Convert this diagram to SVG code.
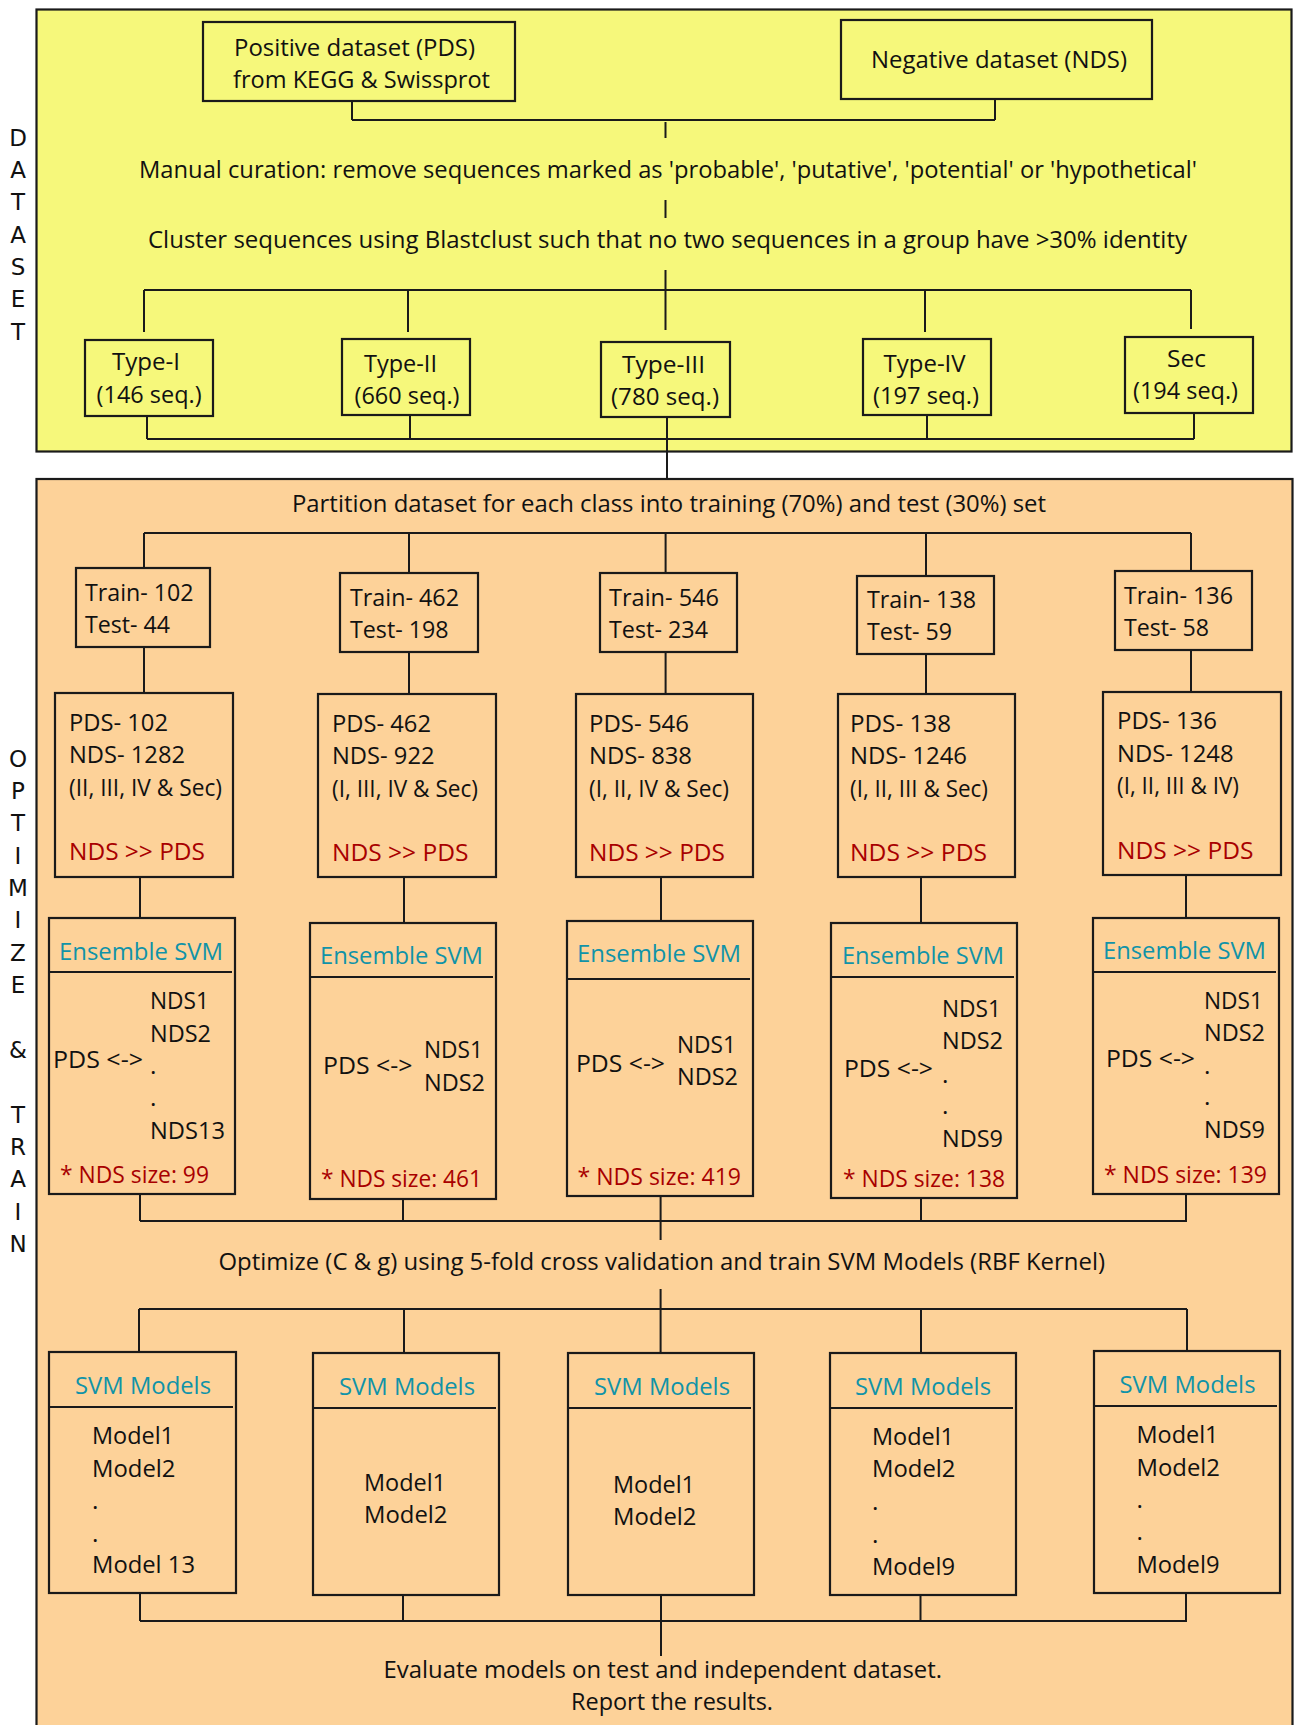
<svg xmlns="http://www.w3.org/2000/svg" width="1294" height="1725" viewBox="0 0 1294 1725">
<style>
.bg{stroke:#1a1a1a;stroke-width:2.2}
.b{fill:none;stroke:#1a1a1a;stroke-width:2.2}
.c{fill:none;stroke:#1a1a1a;stroke-width:2}
text{font-family:'Open Sans','Noto Sans',Lato,sans-serif;font-size:24.5px;fill:#111;font-variant-ligatures:none}
.r{fill:#a80000}
.tl{fill:#1093a8}
.s{font-family:'DejaVu Sans','Liberation Sans',sans-serif;font-size:23px;text-anchor:middle;fill:#111}
</style>
<rect x="0" y="0" width="1294" height="1725" fill="#ffffff"/>
<rect class="bg" x="36.5" y="9.5" width="1255" height="442" fill="#f6f87b"/>
<rect class="bg" x="36.5" y="479" width="1256" height="1260" fill="#fdd299"/>

<g id="side-labels">
<text class="s" x="18" y="146">D</text><text class="s" x="18" y="178">A</text><text class="s" x="18" y="210">T</text><text class="s" x="18" y="243">A</text><text class="s" x="18" y="275">S</text><text class="s" x="18" y="307">E</text><text class="s" x="18" y="340">T</text>
<text class="s" x="18" y="767">O</text><text class="s" x="18" y="799">P</text><text class="s" x="18" y="831">T</text><text class="s" x="18" y="864">I</text><text class="s" x="18" y="896">M</text><text class="s" x="18" y="928">I</text><text class="s" x="18" y="961">Z</text><text class="s" x="18" y="993">E</text><text class="s" x="18" y="1058">&amp;</text><text class="s" x="18" y="1123">T</text><text class="s" x="18" y="1155">R</text><text class="s" x="18" y="1187">A</text><text class="s" x="18" y="1220">I</text><text class="s" x="18" y="1252">N</text>
</g>

<g id="connectors" class="c">
<path d="M352 101V120M995 99V120M352 120H995M665.5 122V138M665.5 200V218M665.5 270V330"/>
<path d="M144 290H1191M144 290V332M408 290V332M925 290V332M1191 290V329"/>
<path d="M147 416V439M410 415V439M667 417V479M927 415V439M1194 413V439M147 439H1194"/>
<path d="M144 533H1191M144 533V568M409 533V573M665.6 533V573M926 533V576M1191 533V571"/>
<path d="M144 647V693M409 652V694M665.6 652V694M926 654V694M1191 650V692"/>
<path d="M140 877V918M404 877V923M661 877V921M921 877V923M1186 875V918"/>
<path d="M140 1194V1221M403 1199V1221M660.6 1196V1240M921 1198V1221M1186 1194V1221M140 1221H1187"/>
<path d="M660.6 1289V1353M139 1309H1187M139 1309V1352M404 1309V1353M921 1309V1353M1187 1309V1351"/>
<path d="M140 1593V1621M403 1595V1621M661 1595V1656M920.5 1595V1621M1186 1593V1621M140 1621H1187"/>
</g>

<g id="pds-source"><rect class="b" x="203" y="22" width="312" height="79"/>
<text x="234" y="56" textLength="241" lengthAdjust="spacingAndGlyphs">Positive dataset (PDS)</text>
<text x="233" y="88" textLength="257" lengthAdjust="spacingAndGlyphs">from KEGG &amp; Swissprot</text></g>
<g id="nds-source"><rect class="b" x="841" y="20" width="311" height="79"/>
<text x="871" y="68" textLength="256" lengthAdjust="spacingAndGlyphs">Negative dataset (NDS)</text></g>
<g id="curation"><text x="139" y="178" textLength="1058" lengthAdjust="spacingAndGlyphs">Manual curation: remove sequences marked as 'probable', 'putative', 'potential' or 'hypothetical'</text></g>
<g id="cluster"><text x="148" y="248" textLength="1039" lengthAdjust="spacingAndGlyphs">Cluster sequences using Blastclust such that no two sequences in a group have &gt;30% identity</text></g>

<g id="type1"><rect class="b" x="85" y="340" width="128" height="76"/>
<text x="112" y="370" textLength="68" lengthAdjust="spacingAndGlyphs">Type-I</text>
<text x="96.6" y="403" textLength="105" lengthAdjust="spacingAndGlyphs">(146 seq.)</text></g>
<g id="type2"><rect class="b" x="342" y="339" width="128" height="76"/>
<text x="364" y="372" textLength="73" lengthAdjust="spacingAndGlyphs">Type-II</text>
<text x="354.5" y="404" textLength="105" lengthAdjust="spacingAndGlyphs">(660 seq.)</text></g>
<g id="type3"><rect class="b" x="601" y="342" width="129" height="75"/>
<text x="622" y="373" textLength="83" lengthAdjust="spacingAndGlyphs">Type-III</text>
<text x="611" y="405" textLength="108" lengthAdjust="spacingAndGlyphs">(780 seq.)</text></g>
<g id="type4"><rect class="b" x="863" y="339" width="128" height="76"/>
<text x="883.6" y="372" textLength="82" lengthAdjust="spacingAndGlyphs">Type-IV</text>
<text x="873" y="404" textLength="106" lengthAdjust="spacingAndGlyphs">(197 seq.)</text></g>
<g id="sec"><rect class="b" x="1125" y="337" width="128" height="76"/>
<text x="1167" y="367" textLength="39" lengthAdjust="spacingAndGlyphs">Sec</text>
<text x="1133" y="399" textLength="105" lengthAdjust="spacingAndGlyphs">(194 seq.)</text></g>

<g id="partition"><text x="292" y="512" textLength="754" lengthAdjust="spacingAndGlyphs">Partition dataset for each class into training (70%) and test (30%) set</text></g>

<g id="train1"><rect class="b" x="76" y="568" width="134" height="79"/>
<text x="85" y="601" textLength="108.6" lengthAdjust="spacingAndGlyphs">Train- 102</text>
<text x="85" y="633" textLength="85" lengthAdjust="spacingAndGlyphs">Test- 44</text></g>
<g id="train2"><rect class="b" x="340" y="573" width="138" height="79"/>
<text x="350" y="606" textLength="109" lengthAdjust="spacingAndGlyphs">Train- 462</text>
<text x="350" y="638" textLength="98.6" lengthAdjust="spacingAndGlyphs">Test- 198</text></g>
<g id="train3"><rect class="b" x="600" y="573" width="137" height="79"/>
<text x="609" y="606" textLength="110" lengthAdjust="spacingAndGlyphs">Train- 546</text>
<text x="609" y="638" textLength="99" lengthAdjust="spacingAndGlyphs">Test- 234</text></g>
<g id="train4"><rect class="b" x="857" y="576" width="137" height="78"/>
<text x="867" y="608" textLength="109" lengthAdjust="spacingAndGlyphs">Train- 138</text>
<text x="867" y="640" textLength="85" lengthAdjust="spacingAndGlyphs">Test- 59</text></g>
<g id="train5"><rect class="b" x="1115" y="571" width="137" height="79"/>
<text x="1124" y="604" textLength="109" lengthAdjust="spacingAndGlyphs">Train- 136</text>
<text x="1124" y="636" textLength="85" lengthAdjust="spacingAndGlyphs">Test- 58</text></g>

<g id="pds1"><rect class="b" x="55" y="693" width="178" height="184"/>
<text x="69" y="731" textLength="99" lengthAdjust="spacingAndGlyphs">PDS- 102</text>
<text x="69" y="763" textLength="116" lengthAdjust="spacingAndGlyphs">NDS- 1282</text>
<text x="69" y="796" textLength="153" lengthAdjust="spacingAndGlyphs">(II, III, IV &amp; Sec)</text>
<text class="r" x="69" y="860" textLength="136" lengthAdjust="spacingAndGlyphs">NDS &gt;&gt; PDS</text></g>
<g id="pds2"><rect class="b" x="318" y="694" width="178" height="183"/>
<text x="332" y="732" textLength="99" lengthAdjust="spacingAndGlyphs">PDS- 462</text>
<text x="332" y="764" textLength="102.5" lengthAdjust="spacingAndGlyphs">NDS- 922</text>
<text x="332" y="797" textLength="146" lengthAdjust="spacingAndGlyphs">(I, III, IV &amp; Sec)</text>
<text class="r" x="332" y="861" textLength="136.5" lengthAdjust="spacingAndGlyphs">NDS &gt;&gt; PDS</text></g>
<g id="pds3"><rect class="b" x="576" y="694" width="177" height="183"/>
<text x="589" y="732" textLength="100" lengthAdjust="spacingAndGlyphs">PDS- 546</text>
<text x="589" y="764" textLength="103" lengthAdjust="spacingAndGlyphs">NDS- 838</text>
<text x="589" y="797" textLength="140" lengthAdjust="spacingAndGlyphs">(I, II, IV &amp; Sec)</text>
<text class="r" x="589" y="861" textLength="136" lengthAdjust="spacingAndGlyphs">NDS &gt;&gt; PDS</text></g>
<g id="pds4"><rect class="b" x="838" y="694" width="177" height="183"/>
<text x="850" y="732" textLength="101" lengthAdjust="spacingAndGlyphs">PDS- 138</text>
<text x="850" y="764" textLength="117" lengthAdjust="spacingAndGlyphs">NDS- 1246</text>
<text x="850" y="797" textLength="138" lengthAdjust="spacingAndGlyphs">(I, II, III &amp; Sec)</text>
<text class="r" x="850" y="861" textLength="137" lengthAdjust="spacingAndGlyphs">NDS &gt;&gt; PDS</text></g>
<g id="pds5"><rect class="b" x="1103" y="692" width="178" height="183"/>
<text x="1117" y="729" textLength="100" lengthAdjust="spacingAndGlyphs">PDS- 136</text>
<text x="1117" y="762" textLength="116.5" lengthAdjust="spacingAndGlyphs">NDS- 1248</text>
<text x="1117" y="794" textLength="122" lengthAdjust="spacingAndGlyphs">(I, II, III &amp; IV)</text>
<text class="r" x="1117" y="859" textLength="136.5" lengthAdjust="spacingAndGlyphs">NDS &gt;&gt; PDS</text></g>

<g id="ens1"><rect class="b" x="49" y="918" width="186" height="276"/><path class="c" d="M50 972H232"/>
<text class="tl" x="59" y="960" textLength="164" lengthAdjust="spacingAndGlyphs">Ensemble SVM</text>
<text x="53" y="1068" textLength="90" lengthAdjust="spacingAndGlyphs">PDS &lt;-&gt;</text>
<text x="150" y="1009" textLength="59" lengthAdjust="spacingAndGlyphs">NDS1</text>
<text x="150" y="1042" textLength="61" lengthAdjust="spacingAndGlyphs">NDS2</text>
<text x="150" y="1074">.</text><text x="150" y="1106">.</text>
<text x="150" y="1139" textLength="75" lengthAdjust="spacingAndGlyphs">NDS13</text>
<text class="r" x="60" y="1183" textLength="149" lengthAdjust="spacingAndGlyphs">* NDS size: 99</text></g>
<g id="ens2"><rect class="b" x="310" y="923" width="186" height="276"/><path class="c" d="M311 977H493"/>
<text class="tl" x="320" y="964" textLength="163" lengthAdjust="spacingAndGlyphs">Ensemble SVM</text>
<text x="323" y="1074" textLength="89.5" lengthAdjust="spacingAndGlyphs">PDS &lt;-&gt;</text>
<text x="424" y="1058" textLength="59" lengthAdjust="spacingAndGlyphs">NDS1</text>
<text x="424" y="1091" textLength="61" lengthAdjust="spacingAndGlyphs">NDS2</text>
<text class="r" x="321" y="1187" textLength="161" lengthAdjust="spacingAndGlyphs">* NDS size: 461</text></g>
<g id="ens3"><rect class="b" x="567" y="921" width="186" height="275"/><path class="c" d="M568 979H750"/>
<text class="tl" x="577" y="962" textLength="164" lengthAdjust="spacingAndGlyphs">Ensemble SVM</text>
<text x="576" y="1072" textLength="89" lengthAdjust="spacingAndGlyphs">PDS &lt;-&gt;</text>
<text x="677" y="1053" textLength="59" lengthAdjust="spacingAndGlyphs">NDS1</text>
<text x="677" y="1085" textLength="61" lengthAdjust="spacingAndGlyphs">NDS2</text>
<text class="r" x="577.5" y="1185" textLength="163.5" lengthAdjust="spacingAndGlyphs">* NDS size: 419</text></g>
<g id="ens4"><rect class="b" x="831" y="923" width="186" height="275"/><path class="c" d="M832 977H1014"/>
<text class="tl" x="842" y="964" textLength="162" lengthAdjust="spacingAndGlyphs">Ensemble SVM</text>
<text x="844" y="1077" textLength="89" lengthAdjust="spacingAndGlyphs">PDS &lt;-&gt;</text>
<text x="942" y="1017" textLength="59" lengthAdjust="spacingAndGlyphs">NDS1</text>
<text x="942" y="1049" textLength="61" lengthAdjust="spacingAndGlyphs">NDS2</text>
<text x="942" y="1083">.</text><text x="942" y="1114">.</text>
<text x="942" y="1147" textLength="61" lengthAdjust="spacingAndGlyphs">NDS9</text>
<text class="r" x="843" y="1187" textLength="162" lengthAdjust="spacingAndGlyphs">* NDS size: 138</text></g>
<g id="ens5"><rect class="b" x="1093" y="918" width="186" height="276"/><path class="c" d="M1094 972H1276"/>
<text class="tl" x="1103" y="959" textLength="163" lengthAdjust="spacingAndGlyphs">Ensemble SVM</text>
<text x="1106" y="1067" textLength="89" lengthAdjust="spacingAndGlyphs">PDS &lt;-&gt;</text>
<text x="1204" y="1009" textLength="59" lengthAdjust="spacingAndGlyphs">NDS1</text>
<text x="1204" y="1041" textLength="61" lengthAdjust="spacingAndGlyphs">NDS2</text>
<text x="1204" y="1074">.</text><text x="1204" y="1105">.</text>
<text x="1204" y="1138" textLength="61" lengthAdjust="spacingAndGlyphs">NDS9</text>
<text class="r" x="1104" y="1183" textLength="163" lengthAdjust="spacingAndGlyphs">* NDS size: 139</text></g>

<g id="optimize"><text x="218.5" y="1270" textLength="886.5" lengthAdjust="spacingAndGlyphs">Optimize (C &amp; g) using 5-fold cross validation and train SVM Models (RBF Kernel)</text></g>

<g id="svm1"><rect class="b" x="49" y="1352" width="187" height="241"/><path class="c" d="M50 1407H233"/>
<text class="tl" x="75" y="1394" textLength="136" lengthAdjust="spacingAndGlyphs">SVM Models</text>
<text x="92" y="1444" textLength="82" lengthAdjust="spacingAndGlyphs">Model1</text>
<text x="92" y="1477" textLength="83.5" lengthAdjust="spacingAndGlyphs">Model2</text>
<text x="92" y="1509">.</text><text x="92" y="1542">.</text>
<text x="92" y="1573" textLength="103" lengthAdjust="spacingAndGlyphs">Model 13</text></g>
<g id="svm2"><rect class="b" x="313" y="1353" width="186" height="242"/><path class="c" d="M314 1408H496"/>
<text class="tl" x="339" y="1395" textLength="136" lengthAdjust="spacingAndGlyphs">SVM Models</text>
<text x="364" y="1491" textLength="82" lengthAdjust="spacingAndGlyphs">Model1</text>
<text x="364" y="1523" textLength="83.5" lengthAdjust="spacingAndGlyphs">Model2</text></g>
<g id="svm3"><rect class="b" x="568" y="1353" width="186" height="242"/><path class="c" d="M569 1408H751"/>
<text class="tl" x="594" y="1395" textLength="136" lengthAdjust="spacingAndGlyphs">SVM Models</text>
<text x="613" y="1493" textLength="82" lengthAdjust="spacingAndGlyphs">Model1</text>
<text x="613" y="1525" textLength="83.5" lengthAdjust="spacingAndGlyphs">Model2</text></g>
<g id="svm4"><rect class="b" x="830" y="1353" width="186" height="242"/><path class="c" d="M831 1408H1013"/>
<text class="tl" x="855" y="1395" textLength="136" lengthAdjust="spacingAndGlyphs">SVM Models</text>
<text x="872" y="1445" textLength="82" lengthAdjust="spacingAndGlyphs">Model1</text>
<text x="872" y="1477" textLength="83.5" lengthAdjust="spacingAndGlyphs">Model2</text>
<text x="872" y="1510">.</text><text x="872" y="1543">.</text>
<text x="872" y="1575" textLength="83" lengthAdjust="spacingAndGlyphs">Model9</text></g>
<g id="svm5"><rect class="b" x="1094" y="1351" width="186" height="242"/><path class="c" d="M1095 1406H1277"/>
<text class="tl" x="1119.5" y="1393" textLength="136" lengthAdjust="spacingAndGlyphs">SVM Models</text>
<text x="1136.5" y="1443" textLength="82" lengthAdjust="spacingAndGlyphs">Model1</text>
<text x="1136.5" y="1476" textLength="83.5" lengthAdjust="spacingAndGlyphs">Model2</text>
<text x="1136.5" y="1508">.</text><text x="1136.5" y="1540">.</text>
<text x="1136.5" y="1573" textLength="83" lengthAdjust="spacingAndGlyphs">Model9</text></g>

<g id="evaluate">
<text x="383.5" y="1678" textLength="558.5" lengthAdjust="spacingAndGlyphs">Evaluate models on test and independent dataset.</text>
<text x="571" y="1710" textLength="202" lengthAdjust="spacingAndGlyphs">Report the results.</text></g>
</svg>
